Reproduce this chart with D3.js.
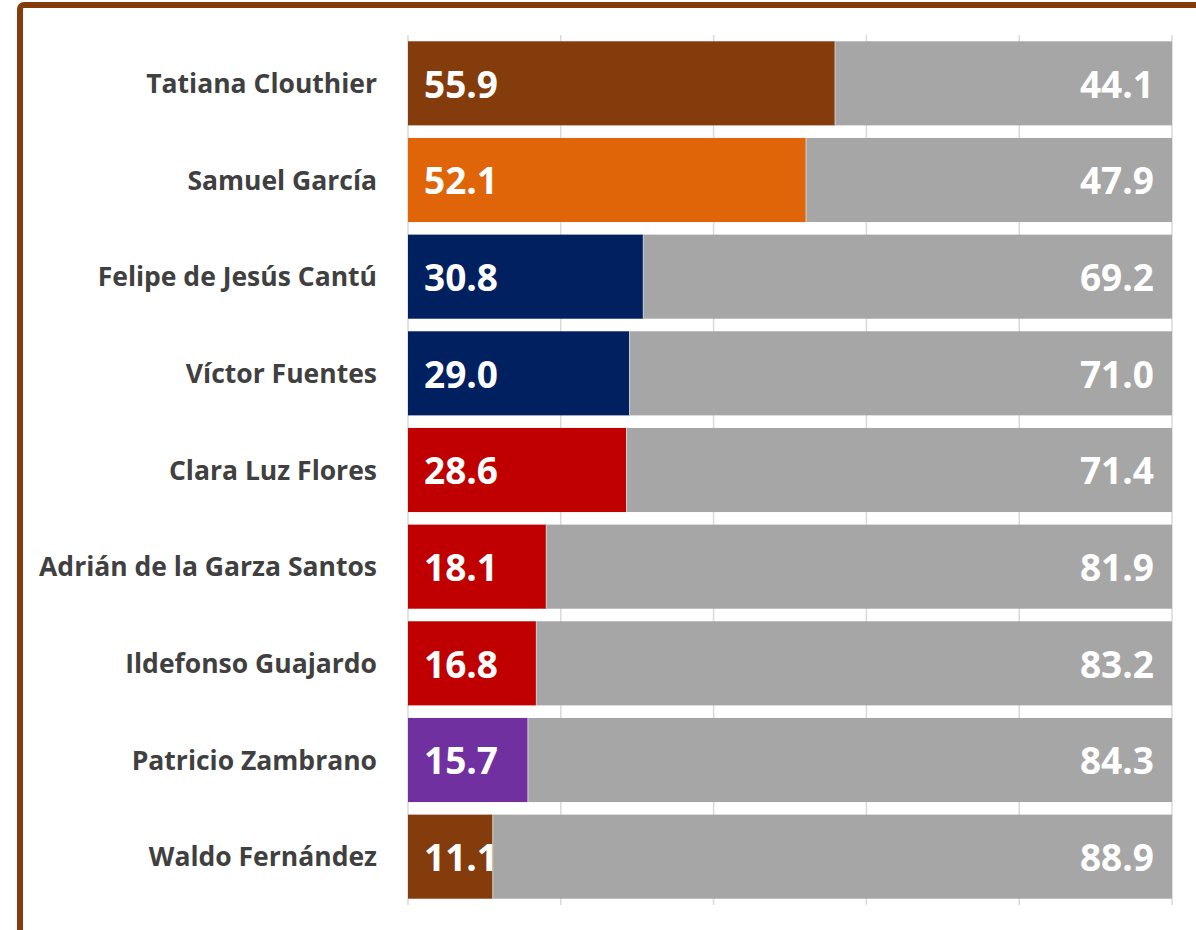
<!DOCTYPE html>
<html>
<head>
<meta charset="utf-8">
<script src="https://cdn.jsdelivr.net/npm/d3@7"></script>
<style>
  html, body { margin: 0; padding: 0; background: #fff; }
  svg { display: block; }
</style>
</head>
<body>
<svg id="chart" width="1196" height="930"></svg>
<script>
const names = [
  'Tatiana Clouthier', 'Samuel García', 'Felipe de Jesús Cantú', 'Víctor Fuentes',
  'Clara Luz Flores', 'Adrián de la Garza Santos', 'Ildefonso Guajardo',
  'Patricio Zambrano', 'Waldo Fernández'
]
const favor = [55.9, 52.1, 30.8, 29.0, 28.6, 18.1, 16.8, 15.7, 11.1]
const rest = [44.1, 47.9, 69.2, 71.0, 71.4, 81.9, 83.2, 84.3, 88.9]
const barColors = ['#843c0c', '#e06408', '#002060', '#002060', '#c00000', '#c00000', '#c00000', '#7030a0', '#843c0c']
const ticks = [0, 20, 40, 60, 80, 100]

const svg = d3.select('#chart')

// frame (only top and left edge are inside the picture)
svg.append('rect')
  .attr('x', 20).attr('y', 5)
  .attr('width', 1300).attr('height', 1100)
  .attr('rx', 4)
  .attr('fill', 'none')
  .attr('stroke', '#843c0c')
  .attr('stroke-width', 6)

const x = d3.scaleLinear().domain([0, 100]).range([408, 1172])
const y = d3.scaleBand().domain(names).range([35, 905]).paddingInner(0.13).paddingOuter(0.065)

// gridlines
svg.append('g')
  .selectAll('line')
  .data(ticks)
  .join('line')
  .attr('x1', d => x(d)).attr('x2', d => x(d))
  .attr('y1', 35).attr('y2', 905)
  .attr('stroke', '#d9d9d9')
  .attr('stroke-width', 1.5)

const rows = svg.append('g')
  .selectAll('g')
  .data(names)
  .join('g')
  .attr('transform', d => `translate(0,${y(d)})`)

rows.append('rect')
  .attr('x', (d, i) => x(favor[i]))
  .attr('width', (d, i) => x(favor[i] + rest[i]) - x(favor[i]))
  .attr('height', y.bandwidth())
  .attr('fill', '#a6a6a6')

rows.append('rect')
  .attr('x', x(0))
  .attr('width', (d, i) => x(favor[i]) - x(0))
  .attr('height', y.bandwidth())
  .attr('fill', (d, i) => barColors[i])

// thin light edge where the two parts meet
rows.append('line')
  .attr('x1', (d, i) => x(favor[i])).attr('x2', (d, i) => x(favor[i]))
  .attr('y1', 0).attr('y2', y.bandwidth())
  .attr('stroke', '#d0d0d0')
  .attr('stroke-width', 1)

const font = '"Open Sans", sans-serif'

rows.append('text')
  .attr('x', x(0) + 16)
  .attr('y', y.bandwidth() / 2)
  .attr('dy', '0.39em')
  .attr('fill', '#fff')
  .attr('font-family', font)
  .attr('font-weight', 'bold')
  .attr('font-size', 37)
  .text((d, i) => favor[i].toFixed(1))

rows.append('text')
  .attr('x', x(100) - 18)
  .attr('y', y.bandwidth() / 2)
  .attr('dy', '0.39em')
  .attr('text-anchor', 'end')
  .attr('fill', '#fff')
  .attr('font-family', font)
  .attr('font-weight', 'bold')
  .attr('font-size', 37)
  .text((d, i) => rest[i].toFixed(1))

// category labels
rows.append('text')
  .attr('x', 377)
  .attr('y', y.bandwidth() / 2)
  .attr('dy', '0.36em')
  .attr('text-anchor', 'end')
  .attr('fill', '#404040')
  .attr('font-family', font)
  .attr('font-weight', 'bold')
  .attr('font-size', 26.5)
  .text(d => d)
</script>
</body>
</html>
